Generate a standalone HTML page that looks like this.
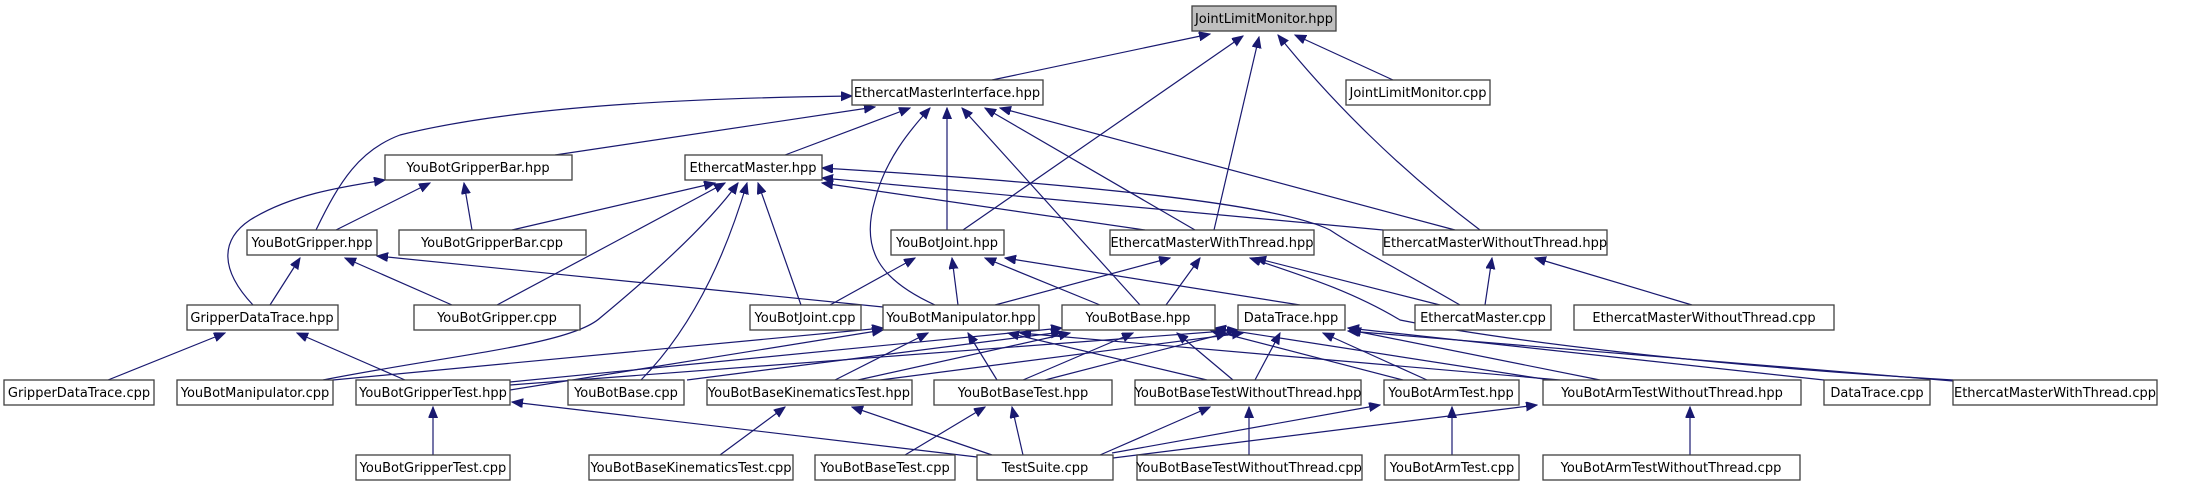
<!DOCTYPE html>
<html><head><meta charset="utf-8"><style>
html,body{margin:0;padding:0;background:#fff}
svg{display:block}
text{font-family:"DejaVu Sans","Liberation Sans",sans-serif;font-size:13px;fill:#000;text-anchor:middle}
rect{fill:#fff;stroke:#404040;stroke-width:1.3}
path{fill:none;stroke:#191970;stroke-width:1.2}
</style></head><body>
<svg width="2199" height="485" viewBox="0 0 2199 485" xmlns="http://www.w3.org/2000/svg">
<defs><marker id="a" markerUnits="userSpaceOnUse" markerWidth="12" markerHeight="10" refX="11" refY="4.5" orient="auto"><path d="M0,0 L11,4.5 L0,9 z" style="fill:#191970;stroke:#191970;stroke-width:1"/></marker></defs>
<g marker-end="url(#a)">
<!-- to JLM.hpp -->
<path d="M992,80 L1210,34"/>
<path d="M963,230 L1243,36"/>
<path d="M1214,230 L1259,37"/>
<path d="M1480,230 C1400,170 1330,100 1278,35"/>
<path d="M1393,80 L1295,35"/>
<!-- to EMI.hpp -->
<path d="M316,230 C340,180 360,150 400,135 C520,105 700,98 852,96"/>
<path d="M555,155 L875,107"/>
<path d="M785,155 L910,108"/>
<path d="M935,305 C880,280 860,250 875,200 C885,160 910,130 930,108"/>
<path d="M947,230 L947,108"/>
<path d="M1140,305 L962,108"/>
<path d="M1195,230 L985,108"/>
<path d="M1455,230 L1000,108"/>
<!-- to YBGB.hpp -->
<path d="M253,305 C220,270 220,240 250,220 C290,195 340,187 385,180"/>
<path d="M336,230 L430,183"/>
<path d="M472,230 L464,183"/>
<!-- to EM.hpp -->
<path d="M512,230 L715,183"/>
<path d="M497,305 L725,183"/>
<path d="M323,380 C450,355 570,345 600,318 C670,260 715,215 738,183"/>
<path d="M641,380 C700,320 730,240 747,183"/>
<path d="M801,305 L758,183"/>
<path d="M1460,305 C1400,270 1360,250 1330,230 C1280,205 1100,185 822,168"/>
<path d="M1383,230 L822,178"/>
<path d="M1145,230 L822,183"/>
<!-- to EMWT.hpp -->
<path d="M995,305 L1170,258"/>
<path d="M1166,305 L1200,258"/>
<path d="M1440,305 L1255,258"/>
<path d="M1953,380 C1700,365 1500,340 1400,320 C1350,290 1300,275 1250,258"/>
<!-- to EMWoT.hpp -->
<path d="M1485,305 L1492,258"/>
<path d="M1692,305 L1535,258"/>
<!-- to YBG.hpp -->
<path d="M270,305 L300,258"/>
<path d="M452,305 L345,258"/>
<path d="M883,307 L377,256"/>
<!-- to YBJ.hpp -->
<path d="M830,305 L915,258"/>
<path d="M958,305 L952,258"/>
<path d="M1100,305 L985,258"/>
<path d="M1300,305 L1005,258"/>
<!-- to GDT.hpp -->
<path d="M108,380 L225,333"/>
<path d="M405,380 L297,333"/>
<!-- to YBM.hpp -->
<path d="M333,380 L883,328"/>
<path d="M510,390 L883,330"/>
<path d="M835,380 L928,333"/>
<path d="M997,380 L968,333"/>
<path d="M1207,380 L1008,333"/>
<path d="M1560,380 L1020,333"/>
<!-- to YBB.hpp -->
<path d="M510,382 L1062,328"/>
<path d="M687,380 L1062,332"/>
<path d="M858,380 L1070,333"/>
<path d="M1023,380 L1133,333"/>
<path d="M1233,380 L1177,333"/>
<path d="M1403,380 L1210,330"/>
<path d="M1550,380 L1215,328"/>
<!-- to DT.hpp -->
<path d="M510,385 L1238,330"/>
<path d="M880,380 L1243,333"/>
<path d="M1045,380 L1227,333"/>
<path d="M1255,380 L1280,333"/>
<path d="M1427,380 L1323,333"/>
<path d="M1600,380 L1350,330"/>
<path d="M1824,380 L1348,328"/>
<path d="M1953,381 C1700,360 1500,345 1348,331"/>
<!-- row6 -> row5 -->
<path d="M433,455 L433,407"/>
<path d="M720,455 L785,407"/>
<path d="M905,455 L985,407"/>
<path d="M1249,455 L1249,407"/>
<path d="M1452,455 L1452,407"/>
<path d="M1690,455 L1690,407"/>
<path d="M977,457 L512,402"/>
<path d="M992,455 L852,407"/>
<path d="M1023,455 L1012,407"/>
<path d="M1100,455 L1210,407"/>
<path d="M1112,453 L1380,405"/>
<path d="M1113,458 L1537,405"/>
</g>
<g>
<rect x="1192" y="6" width="144" height="25" style="fill:#bfbfbf"/><text x="1264" y="23">JointLimitMonitor.hpp</text>
<rect x="852" y="80" width="191" height="25"/><text x="947" y="97">EthercatMasterInterface.hpp</text>
<rect x="1346" y="80" width="144" height="25"/><text x="1418" y="97">JointLimitMonitor.cpp</text>
<rect x="385" y="155" width="187" height="25"/><text x="478" y="172">YouBotGripperBar.hpp</text>
<rect x="685" y="155" width="137" height="25"/><text x="753" y="172">EthercatMaster.hpp</text>
<rect x="247" y="230" width="130" height="25"/><text x="312" y="247">YouBotGripper.hpp</text>
<rect x="399" y="230" width="187" height="25"/><text x="492" y="247">YouBotGripperBar.cpp</text>
<rect x="891" y="230" width="113" height="25"/><text x="947" y="247">YouBotJoint.hpp</text>
<rect x="1110" y="230" width="204" height="25"/><text x="1212" y="247">EthercatMasterWithThread.hpp</text>
<rect x="1383" y="230" width="224" height="25"/><text x="1495" y="247">EthercatMasterWithoutThread.hpp</text>
<rect x="187" y="305" width="151" height="25"/><text x="262" y="322">GripperDataTrace.hpp</text>
<rect x="414" y="305" width="166" height="25"/><text x="497" y="322">YouBotGripper.cpp</text>
<rect x="750" y="305" width="111" height="25"/><text x="805" y="322">YouBotJoint.cpp</text>
<rect x="883" y="305" width="156" height="25"/><text x="961" y="322">YouBotManipulator.hpp</text>
<rect x="1062" y="305" width="153" height="25"/><text x="1138" y="322">YouBotBase.hpp</text>
<rect x="1238" y="305" width="107" height="25"/><text x="1291" y="322">DataTrace.hpp</text>
<rect x="1415" y="305" width="136" height="25"/><text x="1483" y="322">EthercatMaster.cpp</text>
<rect x="1574" y="305" width="260" height="25"/><text x="1704" y="322">EthercatMasterWithoutThread.cpp</text>
<rect x="4" y="380" width="150" height="25"/><text x="79" y="397">GripperDataTrace.cpp</text>
<rect x="177" y="380" width="156" height="25"/><text x="255" y="397">YouBotManipulator.cpp</text>
<rect x="356" y="380" width="154" height="25"/><text x="433" y="397">YouBotGripperTest.hpp</text>
<rect x="568" y="380" width="116" height="25"/><text x="626" y="397">YouBotBase.cpp</text>
<rect x="707" y="380" width="205" height="25"/><text x="809" y="397">YouBotBaseKinematicsTest.hpp</text>
<rect x="934" y="380" width="178" height="25"/><text x="1023" y="397">YouBotBaseTest.hpp</text>
<rect x="1135" y="380" width="226" height="25"/><text x="1248" y="397">YouBotBaseTestWithoutThread.hpp</text>
<rect x="1384" y="380" width="135" height="25"/><text x="1451" y="397">YouBotArmTest.hpp</text>
<rect x="1543" y="380" width="258" height="25"/><text x="1672" y="397">YouBotArmTestWithoutThread.hpp</text>
<rect x="1824" y="380" width="106" height="25"/><text x="1877" y="397">DataTrace.cpp</text>
<rect x="1953" y="380" width="204" height="25"/><text x="2055" y="397">EthercatMasterWithThread.cpp</text>
<rect x="356" y="455" width="154" height="25"/><text x="433" y="472">YouBotGripperTest.cpp</text>
<rect x="589" y="455" width="204" height="25"/><text x="691" y="472">YouBotBaseKinematicsTest.cpp</text>
<rect x="815" y="455" width="140" height="25"/><text x="885" y="472">YouBotBaseTest.cpp</text>
<rect x="977" y="455" width="136" height="25"/><text x="1045" y="472">TestSuite.cpp</text>
<rect x="1137" y="455" width="225" height="25"/><text x="1249" y="472">YouBotBaseTestWithoutThread.cpp</text>
<rect x="1385" y="455" width="134" height="25"/><text x="1452" y="472">YouBotArmTest.cpp</text>
<rect x="1543" y="455" width="257" height="25"/><text x="1671" y="472">YouBotArmTestWithoutThread.cpp</text>
</g>
</svg>
</body></html>
